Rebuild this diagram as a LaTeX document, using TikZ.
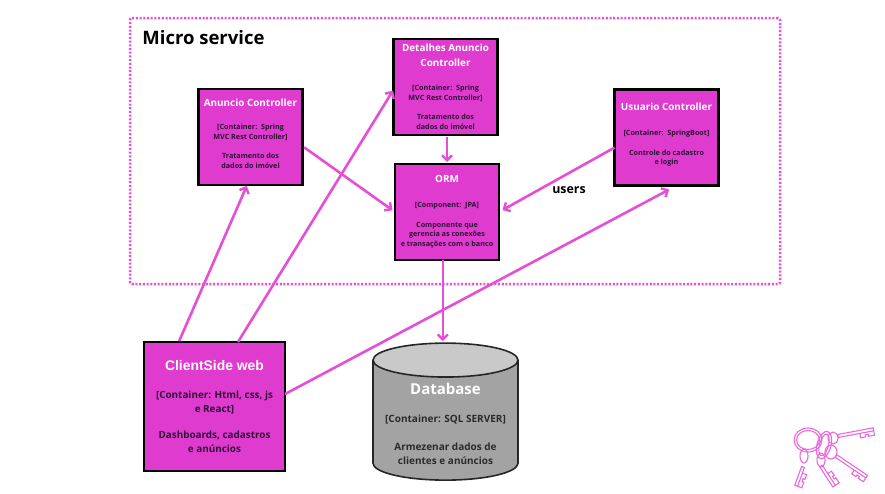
\documentclass[tikz,border=0pt]{standalone}
\usepackage{fontspec}
\setmainfont{Open Sans}
\newfontfamily\arialfont{Liberation Sans}
\usetikzlibrary{arrows.meta,shapes.geometric}
\definecolor{magbox}{HTML}{E03BCF}
\definecolor{magline}{HTML}{E54FD6}
\definecolor{boxtext}{HTML}{2E1038}
\definecolor{dbtext}{HTML}{2B2B2B}
\newcommand{\boxtitle}[1]{{\color{white}\fontsize{9.9}{14}\selectfont #1}}
\tikzset{
  service/.style={draw=black,line width=2.2pt,fill=magbox,minimum width=104,minimum height=96,
    inner sep=0pt,outer sep=0pt,align=center,text=boxtext,font=\bfseries\fontsize{7.2}{9.7}\selectfont},
  link/.style={draw=magline,line width=2.6pt,-{Straight Barb[length=5pt,width=10pt,line width=2.4pt]}},
  keyline/.style={draw=magline!85,line width=1.1pt}
}
\begin{document}
\begin{tikzpicture}[x=1pt,y=-1pt]
  \useasboundingbox (0,0) rectangle (885,493);

  \node (nmicro) [draw=magline,line width=2.5pt,dash pattern=on 2pt off 1.7pt,rounded corners=2pt,
    minimum width=650,minimum height=266,inner sep=0pt] at (455,151) {};
  \node (ntitle) at (203.5,37.5) {\bfseries\fontsize{18.5}{20}\selectfont Micro service};

  \node (nanuncio) [service] at (250.5,137) {\boxtitle{Anuncio Controller}\\[13.5pt]
    [Container:\ \ Spring\\MVC Rest Controller]\\[10pt]Tratamento dos\\dados do imóvel\\[-2.7pt]\ };
  \node (ndetalhes) [service] at (445.5,87) {\boxtitle{Detalhes Anuncio}\\[4.5pt]\boxtitle{Controller}\\[14.5pt]
    [Container:\ \ Spring\\MVC Rest Controller]\\[10pt]Tratamento dos\\dados do imóvel};
  \node (norm) [service] at (447,212) {\boxtitle{ORM}\\[15pt]
    [Component:\ \ JPA]\\[10pt]Componente que\\gerencia as conexões\\e transações com o banco};
  \node (nusuario) [service] at (666.5,137.5) {\boxtitle{Usuario Controller}\\[15pt]
    [Container:\ \ SpringBoot]\\[10pt]Controle do cadastro\\e login\\[-2.7pt]\ };
  \node (nclient) [service,minimum width=141,minimum height=129,font=\bfseries\fontsize{9.9}{14}\selectfont]
    at (214.5,406.5) {{\color{white}\arialfont\fontsize{13.9}{16}\selectfont ClientSide web}\\[14.5pt]
    [Container: Html, css, js\\e React]\\[12pt]Dashboards, cadastros\\e anúncios};
  \node (ndatabase) [cylinder,shape border rotate=90,aspect=0.32,draw=black!85,line width=1.6pt,
    cylinder uses custom fill,cylinder body fill=black!36,cylinder end fill=black!21,
    minimum width=145,minimum height=137,inner sep=0pt,outer sep=0pt] at (445.5,420.5) {\phantom{\rule{106pt}{1pt}}};
  \node (ndbtext) [align=center,text=dbtext,inner sep=0pt,font=\bfseries\fontsize{10}{14}\selectfont] at (445.5,424)
    {{\color{white}\fontsize{15}{16}\selectfont Database}\\[14pt]
    [Container: SQL SERVER]\\[14pt]Armezenar dados de\\clientes e anúncios};

  \node (nusers) at (569,190.5) {\bfseries\fontsize{12.4}{14}\selectfont users};

  \draw[link,shorten <=1pt,shorten >=1pt] (nclient.119.5) -- (nanuncio.266);
  \draw[link,shorten >=1pt] (nclient.70.8) -- (ndetalhes.183);
  \draw[link,shorten >=8.6pt] (nclient.10.8) -- (nusuario.282);
  \draw[link,shorten <=2pt,shorten >=3pt] (nanuncio.350.3) -- (norm.west);
  \draw[link,shorten <=2pt,shorten >=2pt] (norm.north |- ndetalhes.south) -- (norm.north);
  \draw[link,shorten >=4pt] (nusuario.191.3) -- (norm.east);
  \draw[link,shorten >=2pt] (norm.265) -- (norm.265 |- ndatabase.north);

  % keys
  \draw[keyline] (808,440) ellipse [x radius=14,y radius=12];
  \draw[keyline] (808,440) ellipse [x radius=11.5,y radius=9.5];
  \draw[keyline,rotate around={-15:(824,445)}] (824,445) ellipse [x radius=7,y radius=14];
  \draw[keyline,rotate around={-15:(824,445)}] (824,445) ellipse [x radius=4.5,y radius=11];
  \draw[keyline] (833,438) ellipse [x radius=5,y radius=6];
  \draw[keyline] (831,452) ellipse [x radius=6,y radius=7];
  \draw[keyline] (804,456) ellipse [x radius=4,y radius=7];
  \draw[keyline] (821,460) ellipse [x radius=4,y radius=7];
  \foreach \px/\py/\rot/\len/\side in {838/436/10.7/36/1,836/456/-34/37/1,821/466/-57/24/-1,803/467/-110/20/-1}
    \draw[keyline,shift={(\px,\py)},rotate=\rot]
      (0,-1.5) -- (\len,-1.5) -- (\len,1.5) -- (0,1.5) -- cycle
      (\len-14,1.5*\side) -- (\len-14,6*\side) -- (\len-9,6*\side) -- (\len-9,4*\side)
      -- (\len-6,4*\side) -- (\len-6,6*\side) -- (\len,6*\side) -- (\len,1.5*\side);
\end{tikzpicture}
\end{document}
